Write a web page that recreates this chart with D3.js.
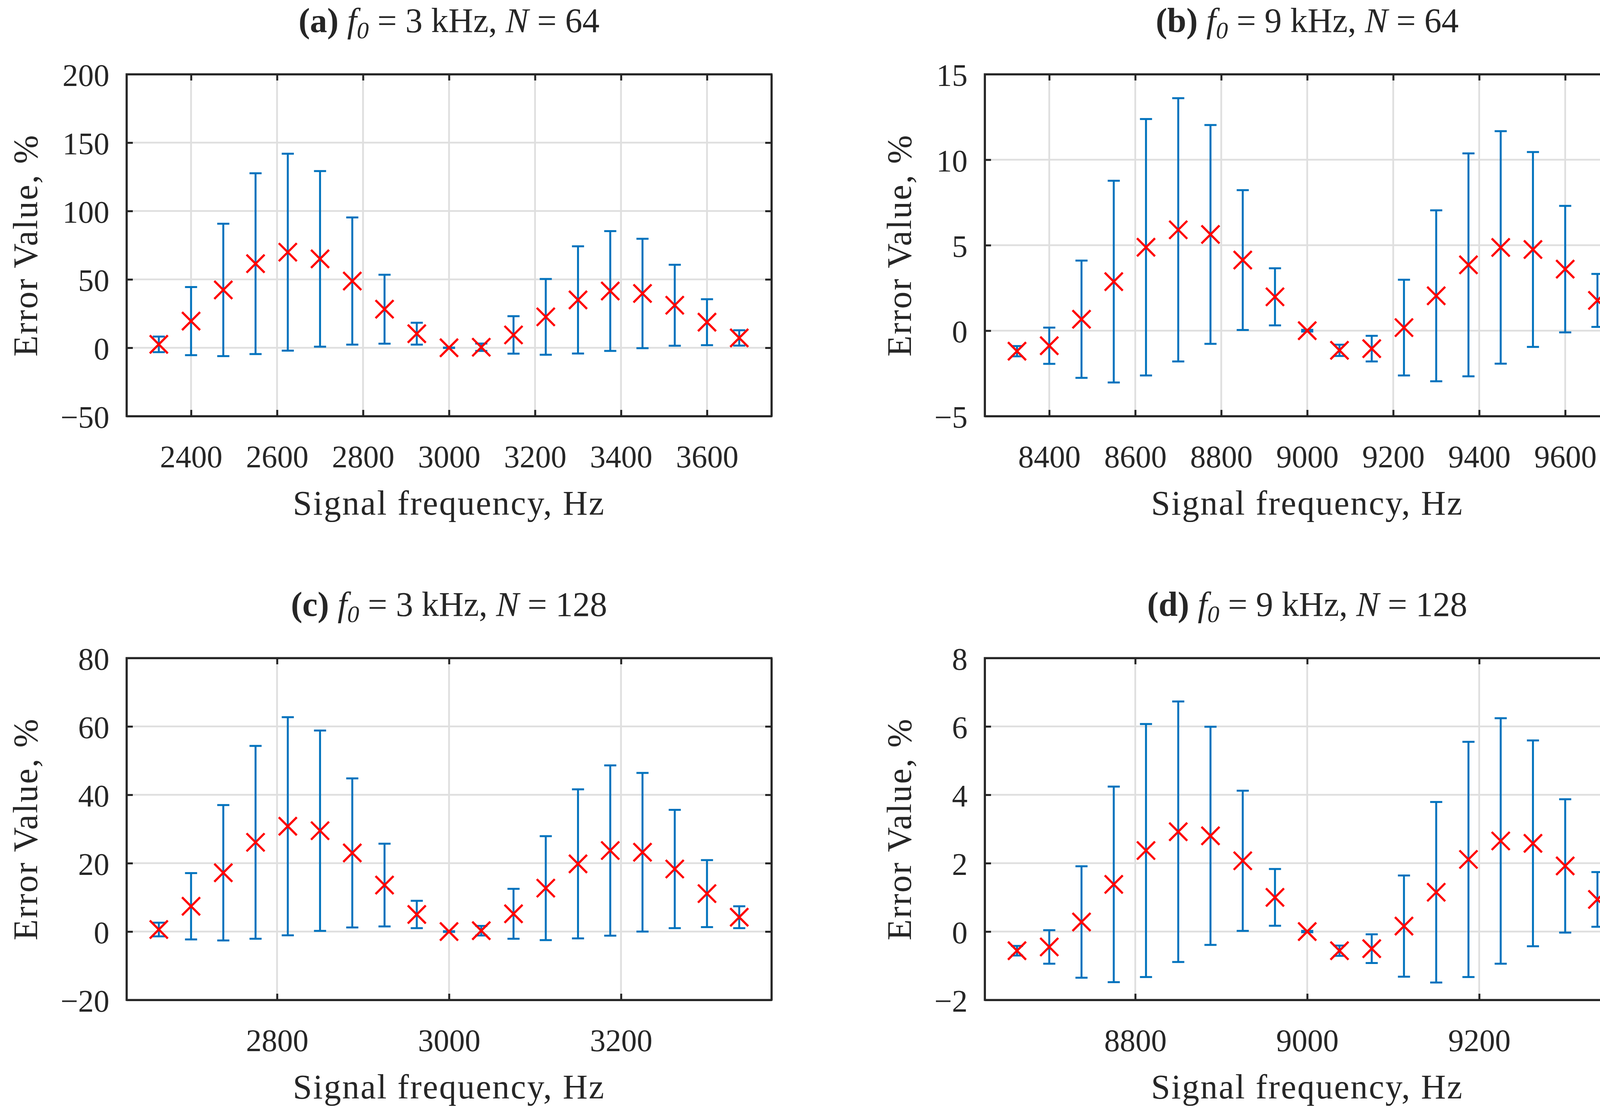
<!DOCTYPE html>
<html>
<head>
<meta charset="utf-8">
<script src="https://cdn.jsdelivr.net/npm/d3@7"></script>
<style>
  html, body { margin: 0; padding: 0; background: #fff; }
  svg { display: block; }
  text { font-family: "Liberation Serif", "DejaVu Serif", serif; fill: #262626; }
</style>
</head>
<body>
<div id="chart"></div>
<script>
// ---- data (mean error and +/- spread, %) ----

// (a) f0 = 3 kHz, N = 64
const freqA = [2325, 2400, 2475, 2550, 2625, 2700, 2775, 2850, 2925, 3000, 3075, 3150, 3225, 3300, 3375, 3450, 3525, 3600, 3675];
const meanA = [2.5, 19.5, 42.3, 61.5, 69.9, 65.0, 48.8, 28.2, 10.3, 0, 0.4, 9.4, 22.6, 35.0, 41.5, 39.7, 31.1, 18.7, 7.2];
const errA = [5.7, 24.9, 48.4, 66.1, 72.0, 64.2, 46.5, 25.2, 8.0, 0.15, 2.7, 13.7, 27.7, 39.2, 43.8, 40.0, 29.6, 16.8, 5.6];
const xTicksA = [2400, 2600, 2800, 3000, 3200, 3400, 3600];
const yTicksA = [-50, 0, 50, 100, 150, 200];

// (b) f0 = 9 kHz, N = 64
const freqB = [8325, 8400, 8475, 8550, 8625, 8700, 8775, 8850, 8925, 9000, 9075, 9150, 9225, 9300, 9375, 9450, 9525, 9600, 9675];
const meanB = [-1.2, -0.88, 0.67, 2.87, 4.88, 5.9, 5.63, 4.13, 1.98, 0, -1.15, -1.05, 0.18, 2.04, 3.85, 4.87, 4.75, 3.6, 1.77];
const errB = [0.3, 1.06, 3.43, 5.9, 7.5, 7.7, 6.4, 4.09, 1.67, 0.05, 0.33, 0.75, 2.8, 5.0, 6.52, 6.8, 5.7, 3.7, 1.55];
const xTicksB = [8400, 8600, 8800, 9000, 9200, 9400, 9600];
const yTicksB = [-5, 0, 5, 10, 15];

// (c) f0 = 3 kHz, N = 128
const freqC = [2662.5, 2700, 2737.5, 2775, 2812.5, 2850, 2887.5, 2925, 2962.5, 3000, 3037.5, 3075, 3112.5, 3150, 3187.5, 3225, 3262.5, 3300, 3337.5];
const meanC = [0.6, 7.4, 17.2, 26.1, 30.8, 29.5, 23.0, 13.6, 5.0, 0, 0.25, 5.2, 12.7, 19.8, 23.7, 23.2, 18.3, 11.1, 4.2];
const errC = [2.0, 9.7, 19.8, 28.2, 31.9, 29.3, 21.8, 12.1, 4.0, 0.1, 1.4, 7.3, 15.2, 21.8, 24.9, 23.2, 17.3, 9.8, 3.2];
const xTicksC = [2800, 3000, 3200];
const yTicksC = [-20, 0, 20, 40, 60, 80];

// (d) f0 = 9 kHz, N = 128
const freqD = [8662.5, 8700, 8737.5, 8775, 8812.5, 8850, 8887.5, 8925, 8962.5, 9000, 9037.5, 9075, 9112.5, 9150, 9187.5, 9225, 9262.5, 9300, 9337.5];
const meanD = [-0.56, -0.45, 0.28, 1.38, 2.37, 2.92, 2.8, 2.07, 1.0, 0, -0.56, -0.5, 0.16, 1.15, 2.11, 2.65, 2.58, 1.92, 0.94];
const errD = [0.14, 0.49, 1.63, 2.86, 3.7, 3.81, 3.19, 2.05, 0.83, 0.02, 0.15, 0.42, 1.48, 2.64, 3.44, 3.59, 3.01, 1.95, 0.8];
const xTicksD = [8800, 9000, 9200];
const yTicksD = [-2, 0, 2, 4, 6, 8];

const titleLetters = ["(a)", "(b)", "(c)", "(d)"];
const titleF0 = ["3", "9", "3", "9"];
const titleN = ["64", "64", "128", "128"];
const xLabel = "Signal frequency, Hz";
const yLabel = "Error Value, %";

// ---- layout ----
const width = 4204;
const height = 2856;
const plotW = 1651;
const plotH = 875;
const axisColor = "#262626";
const gridColor = "#dfdfdf";
const barColor = "#0072BD";
const markColor = "#FF0000";

const panels = [
  { left: 324, top: 190, freq: freqA, mean: meanA, err: errA, xDomain: [2250, 3750], yDomain: [-50, 200], xTicks: xTicksA, yTicks: yTicksA },
  { left: 2521, top: 190, freq: freqB, mean: meanB, err: errB, xDomain: [8250, 9750], yDomain: [-5, 15], xTicks: xTicksB, yTicks: yTicksB },
  { left: 324, top: 1684, freq: freqC, mean: meanC, err: errC, xDomain: [2625, 3375], yDomain: [-20, 80], xTicks: xTicksC, yTicks: yTicksC },
  { left: 2521, top: 1684, freq: freqD, mean: meanD, err: errD, xDomain: [8625, 9375], yDomain: [-2, 8], xTicks: xTicksD, yTicks: yTicksD },
];

const svg = d3
  .select("#chart")
  .append("svg")
  .attr("width", width)
  .attr("height", height);

svg.append("rect").attr("width", width).attr("height", height).attr("fill", "#fff");

panels.forEach((p, i) => drawPanel(p, i));

function styleAxis(g) {
  g.attr("font-family", null).attr("font-size", null);
  g.select(".domain").attr("stroke", axisColor).attr("stroke-width", 5);
  g.selectAll(".tick line").attr("stroke", axisColor).attr("stroke-width", 5);
  g.selectAll(".tick text").attr("fill", axisColor).style("font-size", "80px");
}

function drawPanel(p, i) {
  const g = svg.append("g").attr("transform", `translate(${p.left},${p.top})`);

  const x = d3.scaleLinear().domain(p.xDomain).range([0, plotW]);
  const y = d3.scaleLinear().domain(p.yDomain).range([plotH, 0]);

  // grid lines
  const grid = g.append("g").attr("stroke", gridColor).attr("stroke-width", 4.5);
  grid
    .selectAll(".gx")
    .data(p.xTicks)
    .join("line")
    .attr("x1", (d) => x(d))
    .attr("x2", (d) => x(d))
    .attr("y1", 0)
    .attr("y2", plotH);
  grid
    .selectAll(".gy")
    .data(p.yTicks.filter((d) => d !== p.yDomain[0] && d !== p.yDomain[1]))
    .join("line")
    .attr("x1", 0)
    .attr("x2", plotW)
    .attr("y1", (d) => y(d))
    .attr("y2", (d) => y(d));

  const pts = p.freq.map((f, k) => ({ f: f, m: p.mean[k], e: p.err[k] }));

  // error bars
  const bars = g.append("g").attr("stroke", barColor).attr("stroke-width", 5);
  bars
    .selectAll(".v")
    .data(pts)
    .join("line")
    .attr("x1", (d) => x(d.f))
    .attr("x2", (d) => x(d.f))
    .attr("y1", (d) => y(d.m - d.e))
    .attr("y2", (d) => y(d.m + d.e));
  [1, -1].forEach((s) => {
    bars
      .append("g")
      .selectAll("line")
      .data(pts)
      .join("line")
      .attr("x1", (d) => x(d.f) - 15.5)
      .attr("x2", (d) => x(d.f) + 15.5)
      .attr("y1", (d) => y(d.m + s * d.e))
      .attr("y2", (d) => y(d.m + s * d.e));
  });

  // x markers
  const r = 23;
  g.append("g")
    .selectAll("path")
    .data(pts)
    .join("path")
    .attr("d", (d) => {
      const cx = x(d.f);
      const cy = y(d.m);
      return `M${cx - r},${cy - r}L${cx + r},${cy + r}M${cx - r},${cy + r}L${cx + r},${cy - r}`;
    })
    .attr("fill", "none")
    .attr("stroke", markColor)
    .attr("stroke-width", 5.5);

  // axes (ticks pointing inward on all four sides)
  g.append("g")
    .attr("transform", `translate(0,${plotH})`)
    .call(d3.axisBottom(x).tickValues(p.xTicks).tickSizeInner(-16).tickSizeOuter(0).tickPadding(74).tickFormat(d3.format("d")))
    .call(styleAxis);
  g.append("g")
    .call(d3.axisTop(x).tickValues(p.xTicks).tickSizeInner(-16).tickSizeOuter(0).tickFormat(""))
    .call(styleAxis);
  const yAxis = g
    .append("g")
    .call(d3.axisLeft(y).tickValues(p.yTicks).tickSizeInner(-16).tickSizeOuter(0).tickPadding(44))
    .call(styleAxis);
  yAxis.selectAll(".tick text").attr("dy", "0.37em");
  g.append("g")
    .attr("transform", `translate(${plotW},0)`)
    .call(d3.axisRight(y).tickValues(p.yTicks).tickSizeInner(-16).tickSizeOuter(0).tickFormat(""))
    .call(styleAxis);

  g.append("rect")
    .attr("width", plotW)
    .attr("height", plotH)
    .attr("fill", "none")
    .attr("stroke", axisColor)
    .attr("stroke-width", 5);

  // title
  const title = g
    .append("text")
    .attr("x", plotW / 2)
    .attr("y", -108)
    .attr("text-anchor", "middle")
    .style("font-size", "88px");
  title.append("tspan").attr("font-weight", "bold").text(titleLetters[i]);
  title.append("tspan").text(" ");
  title.append("tspan").attr("font-style", "italic").text("f");
  title.append("tspan").attr("font-style", "italic").attr("dy", 16).style("font-size", "62px").text("0");
  title.append("tspan").attr("dy", -16).text(` = ${titleF0[i]} kHz, `);
  title.append("tspan").attr("font-style", "italic").text("N");
  title.append("tspan").text(` = ${titleN[i]}`);

  // x label
  g.append("text")
    .attr("x", plotW / 2)
    .attr("y", plotH + 252)
    .attr("text-anchor", "middle")
    .style("font-size", "88px")
    .style("letter-spacing", "3px")
    .text(xLabel);

  // y label, placed beyond the widest tick label
  let maxW = 0;
  yAxis.selectAll(".tick text").each(function () {
    maxW = Math.max(maxW, this.getComputedTextLength());
  });
  const yl = -(44 + maxW + 60);
  g.append("text")
    .attr("transform", `translate(${yl},${plotH / 2}) rotate(-90)`)
    .attr("text-anchor", "middle")
    .style("font-size", "88px")
    .style("letter-spacing", "3.3px")
    .text(yLabel);
}
</script>
</body>
</html>
